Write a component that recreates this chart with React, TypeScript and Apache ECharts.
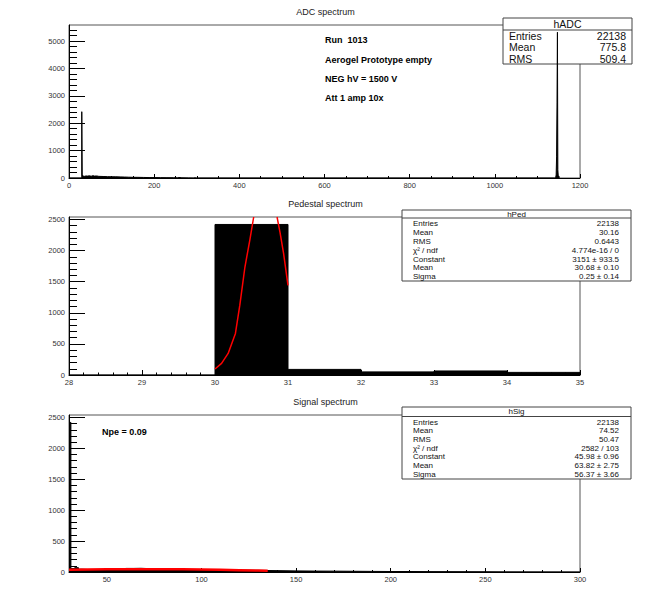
import React, { useEffect, useRef } from "react";
import * as echarts from "echarts";

const FONT = '"Liberation Sans", Arial, Helvetica, sans-serif';

// ADC spectrum: bin left edges and counts (last edge closes the histogram)
const adcEdges = [0, 30, 31, 33, 36, 40, 44, 48, 52, 56, 60, 65, 70, 80, 90, 100, 110, 120, 130, 140, 150, 160, 175, 190, 200, 215, 230, 245, 255, 258, 265, 280, 292, 295, 300, 1141, 1143, 1144, 1145, 1146, 1147, 1148, 1149, 1151];
const adcCounts = [0, 2420, 90, 60, 75, 70, 80, 65, 85, 70, 75, 60, 55, 50, 45, 45, 40, 35, 30, 25, 25, 20, 15, 15, 12, 10, 8, 5, 20, 5, 3, 0, 8, 0, 0, 0, 30, 110, 770, 2740, 5320, 300, 60, 0];

// Pedestal spectrum
const pedEdges = [28, 29, 30, 31, 32, 33, 34, 35];
const pedCounts = [0, 0, 2420, 90, 50, 65, 42, 0];
const pedFitX = [30.0, 30.09, 30.18, 30.28, 30.34, 30.41, 30.48, 30.53, 30.7, 30.85, 30.89, 30.94, 31.0];
const pedFitY = [96, 187, 347, 668, 1122, 1736, 2190, 2540, null, 2540, 2297, 1950, 1442];

// Signal spectrum
const sigEdges = [30, 31, 33, 35, 37, 40, 45, 50, 53, 56, 60, 64, 68, 72, 76, 80, 90, 100, 110, 120, 130, 140, 150, 160, 170, 180, 190, 200, 210, 220, 230, 240, 250, 260, 300];
const sigCounts = [2420, 55, 70, 45, 40, 38, 42, 52, 45, 40, 58, 60, 55, 45, 40, 38, 35, 32, 30, 26, 22, 18, 15, 14, 12, 10, 8, 8, 6, 5, 4, 3, 2, 0, 0];
const sigFitX = [30, 40, 50, 60, 70, 80, 90, 100, 110, 120, 130, 135];
const sigFitY = [38, 42, 44, 46, 46, 45, 43, 40, 35, 30, 24, 21];

// Axis ticks
const adcXMajor = [0, 200, 400, 600, 800, 1000, 1200];
const adcYMajor = [0, 1000, 2000, 3000, 4000, 5000];
const pedXMajor = [28, 29, 30, 31, 32, 33, 34, 35];
const pedYMajor = [0, 500, 1000, 1500, 2000, 2500];
const sigXMajor = [50, 100, 150, 200, 250, 300];
const sigYMajor = [0, 500, 1000, 1500, 2000, 2500];

const adcRange = { xMin: 0, xMax: 1200, yMax: 5584 };
const pedRange = { xMin: 28, xMax: 35, yMax: 2540 };
const sigRange = { xMin: 30, xMax: 300, yMax: 2540 };

// Stats boxes
const hADCLabels = ["Entries", "Mean", "RMS"];
const hADCValues = ["22138", "775.8", "509.4"];
const hPedLabels = ["Entries", "Mean", "RMS", "χ² / ndf", "Constant", "Mean", "Sigma"];
const hPedValues = ["22138", "30.16", "0.6443", "4.774e-16 / 0", "3151 ± 933.5", "30.68 ± 0.10", "0.25 ± 0.14"];
const hSigLabels = ["Entries", "Mean", "RMS", "χ² / ndf", "Constant", "Mean", "Sigma"];
const hSigValues = ["22138", "74.52", "50.47", "2582 / 103", "45.98 ± 0.96", "63.82 ± 2.75", "56.37 ± 3.66"];

const runText = ["Run  1013", "Aerogel Prototype empty", "NEG hV = 1500 V", "Att 1 amp 10x"];

function steps(from: number, to: number, step: number): number[] {
  const out: number[] = [];
  const n = Math.round((to - from) / step);
  for (let i = 0; i <= n; i++) out.push(Math.round((from + i * step) * 1000) / 1000);
  return out;
}

const plain = (v: number) => String(v);

function xAxes(gridIndex: number, min: number, max: number, major: number[], minor: number[], majLen: number, minLen: number) {
  return [
    {
      type: "value", gridIndex, min, max, position: "bottom",
      axisLine: { show: true, onZero: false, lineStyle: { color: "#000", width: 1 } },
      axisTick: { show: true, inside: true, length: majLen, customValues: major, lineStyle: { color: "#000", width: 1 } },
      axisLabel: { show: true, customValues: major, formatter: plain, fontSize: 7.5, color: "#333", margin: 3, fontFamily: FONT },
      splitLine: { show: false },
    },
    {
      type: "value", gridIndex, min, max, position: "bottom",
      axisLine: { show: false },
      axisTick: { show: true, inside: true, length: minLen, customValues: minor, lineStyle: { color: "#000", width: 1 } },
      axisLabel: { show: false },
      splitLine: { show: false },
    },
  ];
}

function yAxes(gridIndex: number, max: number, major: number[], minor: number[]) {
  return [
    {
      type: "value", gridIndex, min: 0, max, position: "left",
      axisLine: { show: true, onZero: false, lineStyle: { color: "#000", width: 1 } },
      axisTick: { show: true, inside: true, length: 16, customValues: major, lineStyle: { color: "#000", width: 1 } },
      axisLabel: { show: true, customValues: major, formatter: plain, fontSize: 7.5, color: "#333", margin: 4, fontFamily: FONT },
      splitLine: { show: false },
    },
    {
      type: "value", gridIndex, min: 0, max, position: "left",
      axisLine: { show: false },
      axisTick: { show: true, inside: true, length: 8, customValues: minor, lineStyle: { color: "#000", width: 1 } },
      axisLabel: { show: false },
      splitLine: { show: false },
    },
  ];
}

function statsBox(x: number, y: number, w: number, h: number, title: string, titleY: number, sepY: number,
  labels: string[], values: string[], rowY: number[], fontSize: number, labelX: number, valueX: number) {
  const children: any[] = [
    { type: "rect", shape: { x, y, width: w, height: h }, style: { fill: "#fff", stroke: "#444", lineWidth: 1 } },
    { type: "line", shape: { x1: x, y1: sepY, x2: x + w, y2: sepY }, style: { stroke: "#444", lineWidth: 1 } },
    { type: "text", x: x + w / 2, y: titleY, style: { text: title, fontSize, fontFamily: FONT, fill: "#111", align: "center", verticalAlign: "middle" } },
  ];
  labels.forEach((l, i) => {
    children.push({ type: "text", x: labelX, y: rowY[i], style: { text: l, fontSize, fontFamily: FONT, fill: "#111", align: "left", verticalAlign: "middle" } });
    children.push({ type: "text", x: valueX, y: rowY[i], style: { text: values[i], fontSize, fontFamily: FONT, fill: "#111", align: "right", verticalAlign: "middle" } });
  });
  return { type: "group", children };
}

export default function App() {
  const ref = useRef<HTMLDivElement>(null);
  useEffect(() => {
    document.body.style.margin = "0";
    if (!ref.current) return;
    const chart = echarts.init(ref.current, null, { renderer: "svg" });

    const grids = [
      { left: 69, top: 25, width: 511, height: 153 },
      { left: 69, top: 217, width: 511, height: 158 },
      { left: 69, top: 415, width: 511, height: 157 },
    ].map((g) => ({ ...g, show: true, borderColor: "#555", borderWidth: 1, backgroundColor: "transparent", containLabel: false, outerBoundsMode: "none" }));

    const xAxis = [
      ...xAxes(0, adcRange.xMin, adcRange.xMax, adcXMajor, steps(0, 1200, 50), 4, 2),
      ...xAxes(1, pedRange.xMin, pedRange.xMax, pedXMajor, steps(28, 35, 0.2), 5, 2.5),
      ...xAxes(2, sigRange.xMin, sigRange.xMax, sigXMajor, steps(30, 300, 10), 4, 2),
    ];
    const yAxis = [
      ...yAxes(0, adcRange.yMax, adcYMajor, steps(0, 5400, 200)),
      ...yAxes(1, pedRange.yMax, pedYMajor, steps(0, 2500, 100)),
      ...yAxes(2, sigRange.yMax, sigYMajor, steps(0, 2500, 100)),
    ];

    const hist = (edges: number[], counts: number[], axisIdx: number) => ({
      type: "line", xAxisIndex: axisIdx, yAxisIndex: axisIdx, step: "end", symbol: "none",
      data: edges.map((x, i) => [x, counts[i]]),
      lineStyle: { color: "#000", width: 1 },
      areaStyle: { color: "#000", opacity: 1 },
      silent: true, clip: true,
    });
    const fit = (xs: number[], ys: (number | null)[], axisIdx: number, width: number) => ({
      type: "line", xAxisIndex: axisIdx, yAxisIndex: axisIdx, symbol: "none", connectNulls: false,
      data: xs.map((x, i) => [x, ys[i] === null ? "-" : ys[i]]),
      lineStyle: { color: "#ff0000", width }, silent: true, clip: true, z: 5,
    });

    const titleStyle = { fontSize: 9, fontWeight: "normal", color: "#222", fontFamily: FONT };

    const option: any = {
      animation: false,
      backgroundColor: "#fff",
      title: [
        { text: "ADC spectrum", left: "center", top: 7, padding: 0, textStyle: titleStyle },
        { text: "Pedestal spectrum", left: "center", top: 199, padding: 0, textStyle: titleStyle },
        { text: "Signal spectrum", left: "center", top: 397, padding: 0, textStyle: titleStyle },
      ],
      grid: grids,
      xAxis,
      yAxis,
      series: [
        hist(adcEdges, adcCounts, 0),
        hist(pedEdges, pedCounts, 2),
        fit(pedFitX, pedFitY, 2, 1.5),
        hist(sigEdges, sigCounts, 4),
        fit(sigFitX, sigFitY, 4, 2.5),
      ],
      graphic: [
        ...runText.map((t, i) => ({
          type: "text", x: 325, y: [40, 60, 79, 98][i],
          style: { text: t, fontSize: 9, fontWeight: "bold", fontFamily: FONT, fill: "#000", align: "left", verticalAlign: "middle" },
        })),
        {
          type: "text", x: 102, y: 432,
          style: { text: "Npe = 0.09", fontSize: 9, fontWeight: "bold", fontFamily: FONT, fill: "#000", align: "left", verticalAlign: "middle" },
        },
        statsBox(503, 18, 129, 46, "hADC", 24, 30, hADCLabels, hADCValues, [35.5, 47, 58.5], 10.5, 509, 626),
        statsBox(402, 210, 229, 71, "hPed", 214, 218, hPedLabels, hPedValues, [223, 232, 241, 250, 259, 267.5, 276], 8, 413, 619),
        statsBox(402, 407, 229, 72, "hSig", 411.5, 416.5, hSigLabels, hSigValues, [422, 430.5, 439, 448, 456.5, 465, 474], 8, 413, 619),
      ],
    };
    chart.setOption(option);
    return () => chart.dispose();
  }, []);
  return <div ref={ref} style={{ width: 651, height: 599 }} />;
}
